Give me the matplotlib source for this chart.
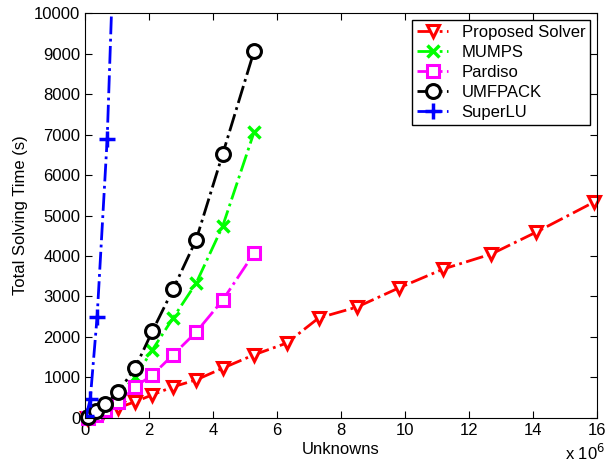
import matplotlib
matplotlib.use('Agg')
import matplotlib.pyplot as plt

plt.rcParams['font.family'] = ['Liberation Sans', 'DejaVu Sans']
plt.rcParams['font.size'] = 12

# unknowns in millions, time in seconds
x_prop = [0.06, 0.25, 0.56, 1.03, 1.56, 2.1, 2.75, 3.47, 4.3, 5.28, 6.3, 7.3, 8.5, 9.8, 11.2, 12.7, 14.1, 15.9]
t_prop = [0, 50, 150, 250, 400, 570, 770, 940, 1230, 1560, 1850, 2470, 2740, 3210, 3680, 4050, 4590, 5330]

x_mumps = [0.1, 0.34, 0.63, 1.03, 1.56, 2.1, 2.75, 3.47, 4.3, 5.28]
t_mumps = [20, 140, 300, 580, 1000, 1680, 2470, 3330, 4740, 7060]

x_pardiso = [0.1, 0.34, 0.63, 1.03, 1.56, 2.1, 2.75, 3.47, 4.3, 5.28]
t_pardiso = [10, 80, 200, 400, 770, 1060, 1560, 2120, 2910, 4070]

x_umf = [0.1, 0.34, 0.63, 1.03, 1.56, 2.1, 2.75, 3.47, 4.3, 5.28]
t_umf = [30, 170, 350, 640, 1230, 2140, 3180, 4400, 6520, 9060]

x_superlu = [0.03, 0.16, 0.375, 0.69, 1.03]
t_superlu = [50, 460, 2500, 6900, 14800]

fig = plt.figure(figsize=(6.08, 4.67), dpi=100)
ax = fig.add_axes([0.14, 0.105, 0.842, 0.867])

ms = 9
ax.plot(x_prop, t_prop, '-.v', color='red', lw=2, ms=ms, mew=2.2, mfc='white',
        label='Proposed Solver', clip_on=False)
ax.plot(x_mumps, t_mumps, '-.x', color=(0, 1, 0), lw=2, ms=ms - 1, mew=2.5,
        label='MUMPS', clip_on=False)
ax.plot(x_pardiso, t_pardiso, '-.s', color='magenta', lw=2, ms=ms - 1, mew=2.2, mfc='white',
        label='Pardiso', clip_on=False)
ax.plot(x_umf, t_umf, '-.o', color='black', lw=2, ms=ms + 1, mew=2.2, mfc='white',
        label='UMFPACK', clip_on=False)
ax.plot(x_superlu, t_superlu, '-.+', color='blue', lw=2, ms=ms + 2, mew=2.5, label='SuperLU')

ax.set_xlim(0, 16)
ax.set_ylim(0, 10000)
ax.set_xticks(range(0, 17, 2))
ax.set_yticks(range(0, 10001, 1000))
ax.tick_params(direction='in', top=True, right=True, length=5)
ax.set_xlabel('Unknowns', labelpad=3)
ax.set_ylabel('Total Solving Time (s)')
fig.text(0.995, 0.008, 'x 10$^6$', ha='right', va='bottom', fontsize=12)

leg = ax.legend(loc='upper right', fancybox=False, edgecolor='black', framealpha=1,
                handlelength=1.9, borderaxespad=0.4, labelspacing=0.3, borderpad=0.3)
leg.get_frame().set_linewidth(1)

fig.savefig('out.png', dpi=100)
